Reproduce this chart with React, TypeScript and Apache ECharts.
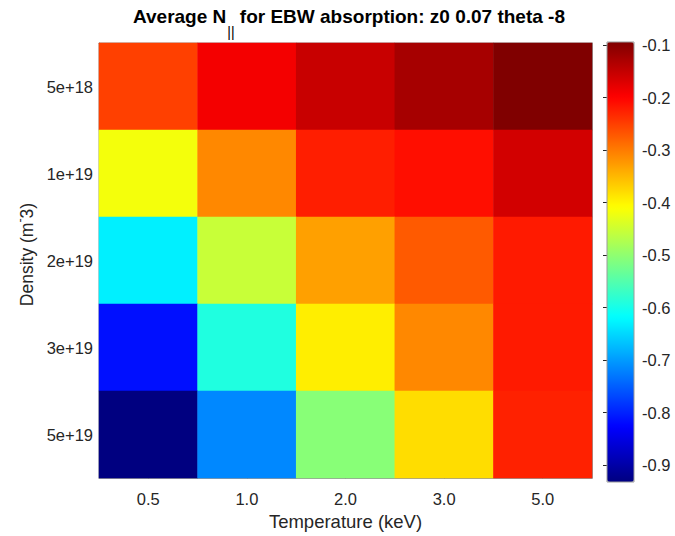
import React, { useEffect, useRef } from "react";
import * as echarts from "echarts";

// Temperatures (keV) along x, densities (m^-3) along y (top to bottom)
const temperatures = ["0.5", "1.0", "2.0", "3.0", "5.0"];
const densities = ["5e+18", "1e+19", "2e+19", "3e+19", "5e+19"];

// Average N_parallel, one row per density, columns follow temperatures
const row5e18 = [-0.251, -0.19, -0.153, -0.125, -0.094];
const row1e19 = [-0.417, -0.31, -0.223, -0.21, -0.162];
const row2e19 = [-0.63, -0.454, -0.33, -0.272, -0.22];
const row3e19 = [-0.815, -0.592, -0.394, -0.31, -0.22];
const row5e19 = [-0.932, -0.716, -0.506, -0.38, -0.226];
const rows = [row5e18, row1e19, row2e19, row3e19, row5e19];

const colorMin = -0.932;
const colorMax = -0.094;
const colorbarTicks = [-0.9, -0.8, -0.7, -0.6, -0.5, -0.4, -0.3, -0.2, -0.1];

// Jet colormap, evenly spaced stops
const jet = [
  "#000080",
  "#0000ff",
  "#0080ff",
  "#00ffff",
  "#80ff80",
  "#ffff00",
  "#ff8000",
  "#ff0000",
  "#800000",
];

const FONT = "'Liberation Sans', Arial, Helvetica, sans-serif";
const TEXT = "#262626";
const FRAME = "#9a9a9a";

export default function App() {
  const ref = useRef<HTMLDivElement>(null);

  useEffect(() => {
    if (!ref.current) return;
    const chart = echarts.init(ref.current, null, { renderer: "svg" });

    const data: [number, number, number][] = [];
    rows.forEach((row, yi) => {
      row.forEach((v, xi) => data.push([xi, yi, v]));
    });

    const labelStyle = { color: TEXT, fontSize: 16.5, fontFamily: FONT };
    const nameStyle = { color: TEXT, fontSize: 18.5, fontFamily: FONT };
    const tickStyle = { show: true, inside: true, length: 4, alignWithLabel: true, lineStyle: { color: TEXT } };

    chart.setOption({
      animation: false,
      backgroundColor: "#ffffff",
      title: {
        text: "{a|Average N}{s|||}{a| for EBW absorption: z0 0.07 theta -8}",
        left: 349,
        textAlign: "center",
        top: 7,
        padding: 0,
        textStyle: {
          rich: {
            a: { fontSize: 19, fontWeight: "bold", color: "#000", fontFamily: FONT, verticalAlign: "top", lineHeight: 20 },
            s: { fontSize: 14, fontWeight: "normal", color: "#000", fontFamily: FONT, verticalAlign: "top", padding: [18, 0, 0, 1], lineHeight: 14 },
          },
        },
      },
      grid: [
        { left: 99, top: 43, width: 493, height: 439, show: true, borderColor: FRAME, borderWidth: 1, backgroundColor: "transparent" },
        { left: 607, top: 42, width: 27, height: 440, show: false },
      ],
      xAxis: [
        {
          gridIndex: 0,
          type: "category",
          data: temperatures,
          position: "bottom",
          axisLine: { show: true, lineStyle: { color: FRAME } },
          axisTick: tickStyle,
          axisLabel: { ...labelStyle, margin: 12 },
          name: "Temperature (keV)",
          nameLocation: "middle",
          nameGap: 32,
          nameTextStyle: nameStyle,
        },
        {
          gridIndex: 0,
          type: "category",
          data: temperatures,
          position: "top",
          axisLine: { show: true, lineStyle: { color: FRAME } },
          axisTick: tickStyle,
          axisLabel: { show: false },
        },
        { gridIndex: 1, type: "value", show: false, min: 0, max: 1 },
      ],
      yAxis: [
        {
          gridIndex: 0,
          type: "category",
          data: densities,
          inverse: true,
          position: "left",
          axisLine: { show: true, lineStyle: { color: FRAME } },
          axisTick: tickStyle,
          axisLabel: { ...labelStyle, margin: 6 },
          name: "{a|Density (m}{p|-}{a|3)}",
          nameLocation: "middle",
          nameGap: 58,
          nameTextStyle: {
            padding: [0, 0, 0, 12],
            rich: {
              a: { ...nameStyle, fontSize: 17.5, verticalAlign: "bottom" },
              p: { ...nameStyle, fontSize: 12.5, verticalAlign: "bottom", padding: [0, 0, 9, 0] },
            },
          },
        },
        {
          gridIndex: 0,
          type: "category",
          data: densities,
          inverse: true,
          position: "right",
          axisLine: { show: true, lineStyle: { color: FRAME } },
          axisTick: tickStyle,
          axisLabel: { show: false },
        },
        {
          gridIndex: 1,
          type: "value",
          position: "right",
          min: colorMin,
          max: colorMax,
          axisLine: { show: false },
          splitLine: { show: false },
          axisTick: { show: true, inside: true, length: 4, lineStyle: { color: TEXT }, customValues: colorbarTicks },
          axisLabel: {
            ...labelStyle,
            margin: 8,
            customValues: colorbarTicks,
            formatter: (v: number) => v.toFixed(1),
          },
          z: 10,
        },
      ],
      visualMap: {
        type: "continuous",
        min: colorMin,
        max: colorMax,
        seriesIndex: 0,
        calculable: false,
        hoverLink: false,
        left: 607,
        top: 42,
        itemWidth: 27,
        itemHeight: 440,
        padding: 0,
        inRange: { color: jet },
      },
      series: [
        {
          type: "heatmap",
          xAxisIndex: 0,
          yAxisIndex: 0,
          data,
          itemStyle: { borderWidth: 0 },
          emphasis: { disabled: true },
        },
      ],
      graphic: [
        {
          type: "rect",
          shape: { x: 607, y: 42, width: 27, height: 440 },
          style: { fill: "none", stroke: FRAME, lineWidth: 1 },
          z: 100,
        },
      ],
    });

    return () => chart.dispose();
  }, []);

  return (
    <div
      ref={ref}
      style={{ position: "fixed", left: 0, top: 0, width: 675, height: 536 }}
    />
  );
}
